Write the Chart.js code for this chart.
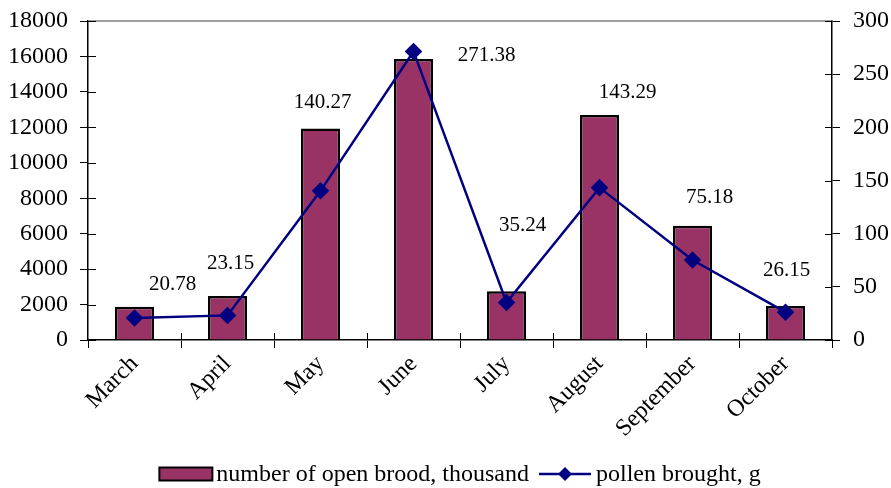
<!DOCTYPE html>
<html><head><meta charset="utf-8">
<script src="https://cdn.jsdelivr.net/npm/chart.js@4"></script>
<style>html,body{margin:0;padding:0;background:#fff}</style>
</head><body><canvas id="c" width="891" height="488"></canvas>
<script>
const categories = ['March','April','May','June','July','August','September','October'];
const broodValues = [1880, 2480, 11940, 15850, 2750, 12700, 6440, 1920];
const pollenValues = [20.78, 23.15, 140.27, 271.38, 35.24, 143.29, 75.18, 26.15];
const pollenLabels = ['20.78','23.15','140.27','271.38','35.24','143.29','75.18','26.15'];
const seriesNames = ['number of open brood, thousand', 'pollen brought, g'];
const leftAxis = {min: 0, max: 18000, step: 2000};
const rightAxis = {min: 0, max: 300, step: 50};

const FONT = 'Liberation Serif, Times New Roman, serif';
const labelOffsets = [[38,-33],[3,-52],[2,-88],[73,4],[16,-77],[28,-95],[17,-63],[1,-42]];

const extras = {
  id: 'extras',
  afterDatasetsDraw(chart) {
    const ctx = chart.ctx;
    const meta = chart.getDatasetMeta(0);
    ctx.save();
    ctx.font = '21px ' + FONT;
    ctx.fillStyle = '#000';
    ctx.textAlign = 'center';
    ctx.textBaseline = 'middle';
    meta.data.forEach((p, i) => {
      const o = labelOffsets[i];
      ctx.fillText(pollenLabels[i], p.x + o[0], p.y + o[1]);
    });
    ctx.restore();
  },
  afterDraw(chart) {
    const ctx = chart.ctx;
    const a = chart.chartArea;
    ctx.save();
    // top border
    ctx.strokeStyle = '#808080';
    ctx.lineWidth = 1.5;
    ctx.beginPath();
    ctx.moveTo(a.left, a.top);
    ctx.lineTo(a.right, a.top);
    ctx.stroke();
    // inward tick marks (ticks cross the axes in the reference)
    ctx.strokeStyle = '#000';
    ctx.lineWidth = 1;
    ctx.beginPath();
    const ys = chart.scales.y, y1s = chart.scales.y1, xs = chart.scales.x;
    ys.ticks.forEach(t => { const py = Math.round(ys.getPixelForValue(t.value)) + 0.5; ctx.moveTo(a.left, py); ctx.lineTo(a.left + 8, py); });
    y1s.ticks.forEach(t => { const py = Math.round(y1s.getPixelForValue(t.value)) + 0.5; ctx.moveTo(a.right, py); ctx.lineTo(a.right - 7, py); });
    const step = (a.right - a.left) / categories.length;
    for (let i = 1; i < categories.length; i++) {
      const px = Math.round(a.left + step * i) + 0.5;
      ctx.moveTo(px, a.bottom); ctx.lineTo(px, a.bottom - 7);
    }
    ctx.stroke();
    // legend
    ctx.font = '24px ' + FONT;
    ctx.textBaseline = 'middle';
    ctx.fillStyle = '#000';
    const t1 = ctx.measureText(seriesNames[0]).width;
    const t2 = ctx.measureText(seriesNames[1]).width;
    const total = 53 + 4 + t1 + 10 + 52 + 5 + t2;
    let x = (a.left + a.right) / 2 - total / 2;
    const y = 474;
    ctx.fillStyle = '#993366';
    ctx.fillRect(x, y - 6.5, 53, 13);
    ctx.strokeStyle = '#000';
    ctx.lineWidth = 2;
    ctx.strokeRect(x, y - 6.5, 53, 13);
    x += 57;
    ctx.fillStyle = '#000';
    ctx.fillText(seriesNames[0], x, y + 1);
    x += t1 + 10;
    ctx.strokeStyle = '#000080';
    ctx.lineWidth = 2.5;
    ctx.beginPath();
    ctx.moveTo(x, y);
    ctx.lineTo(x + 52, y);
    ctx.stroke();
    ctx.fillStyle = '#000080';
    ctx.beginPath();
    const cx = x + 26, r = 7;
    ctx.moveTo(cx, y - r); ctx.lineTo(cx + r, y); ctx.lineTo(cx, y + r); ctx.lineTo(cx - r, y);
    ctx.closePath();
    ctx.fill();
    x += 57;
    ctx.fillStyle = '#000';
    ctx.fillText(seriesNames[1], x, y + 1);
    ctx.restore();
  }
};

const tickFont = {family: FONT, size: 24};
const plain = v => String(v);

new Chart(document.getElementById('c'), {
  data: {
    labels: categories,
    datasets: [
      {
        type: 'line', label: seriesNames[1], data: pollenValues, yAxisID: 'y1', order: 0,
        borderColor: '#000080', borderWidth: 2.5, pointStyle: 'rectRot', pointRadius: 7,
        pointBackgroundColor: '#000080', pointBorderColor: '#000080', tension: 0
      },
      {
        type: 'bar', label: seriesNames[0], data: broodValues, yAxisID: 'y', order: 1,
        backgroundColor: '#993366', borderColor: '#000', borderWidth: 2.5,
        barPercentage: 0.42, categoryPercentage: 1.0
      }
    ]
  },
  options: {
    responsive: false,
    animation: false,
    devicePixelRatio: 1,
    layout: {padding: {top: 21, left: 0, right: 0, bottom: 0}},
    plugins: {legend: {display: false}, tooltip: {enabled: false}},
    scales: {
      x: {
        offset: true,
        grid: {display: true, drawOnChartArea: false, drawTicks: true, tickLength: 8, color: '#000', offset: true},
        border: {color: '#000', width: 1.5},
        ticks: {minRotation: 45, maxRotation: 45, font: tickFont, color: '#000', padding: 2},
        afterFit(s) { s.height = 148; s.paddingLeft = 0; s.paddingRight = 0; }
      },
      y: {
        position: 'left', min: leftAxis.min, max: leftAxis.max,
        grid: {drawOnChartArea: false, tickLength: 8, color: '#000'},
        border: {color: '#000', width: 1.5},
        ticks: {stepSize: leftAxis.step, font: tickFont, color: '#000', padding: 12, callback: plain},
        afterFit(s) { s.width = 88; s.paddingTop = 0; s.paddingBottom = 0; }
      },
      y1: {
        position: 'right', min: rightAxis.min, max: rightAxis.max,
        grid: {drawOnChartArea: false, tickLength: 8, color: '#000'},
        border: {color: '#000', width: 1.5},
        ticks: {stepSize: rightAxis.step, font: tickFont, color: '#000', padding: 13, callback: plain},
        afterFit(s) { s.width = 59; s.paddingTop = 0; s.paddingBottom = 0; }
      }
    }
  },
  plugins: [extras]
});
</script>
</body></html>
